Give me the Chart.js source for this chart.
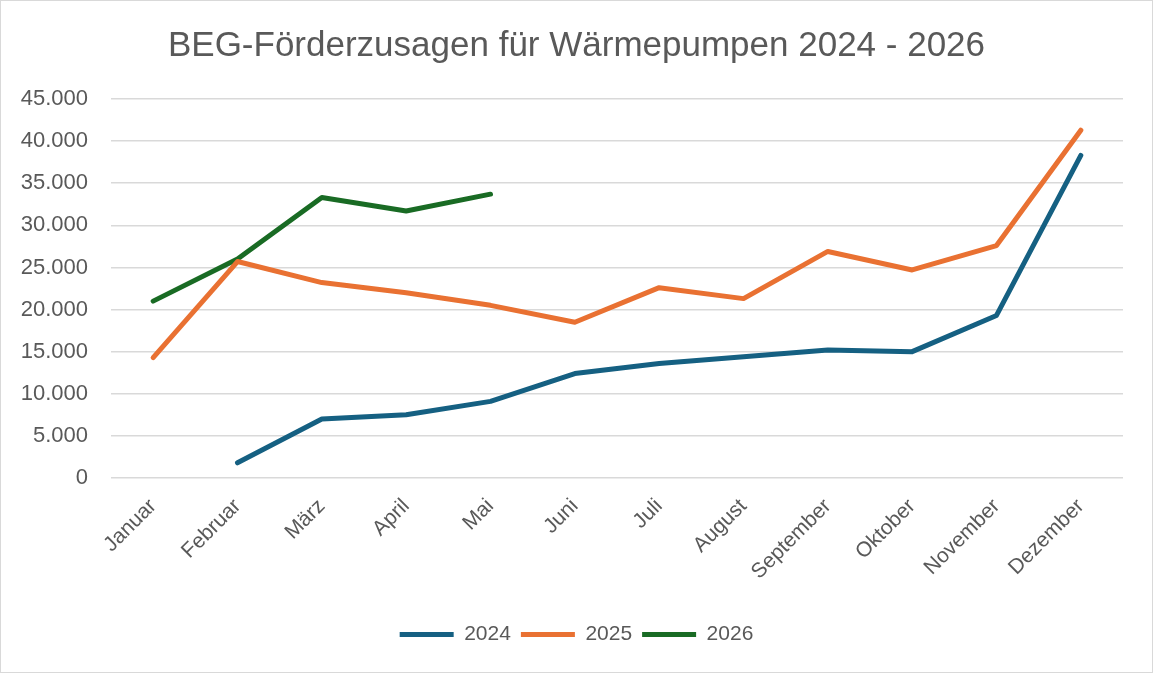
<!DOCTYPE html>
<html><head><meta charset="utf-8">
<script src="https://cdn.jsdelivr.net/npm/chart.js@4/dist/chart.umd.min.js"></script>
<style>
html,body{margin:0;padding:0;background:#fff;}
#wrap{position:absolute;left:0;top:0;width:1151px;height:671px;border:1px solid #d9d9d9;}
canvas{display:block;}
</style></head>
<body>
<div id="wrap"><canvas id="c" width="1151" height="671"></canvas></div>
<script>
const title = "BEG-Förderzusagen für Wärmepumpen 2024 - 2026";
const months = ["Januar","Februar","März","April","Mai","Juni","Juli","August","September","Oktober","November","Dezember"];
const seriesNames = ["2024","2025","2026"];
const values2024 = [null,1800,7000,7500,9100,12400,13600,14400,15200,15000,19300,38300];
const values2025 = [14300,25700,23200,22000,20500,18500,22600,21300,26900,24700,27600,41300];
const values2026 = [21000,26000,33300,31700,33700,null,null,null,null,null,null,null];
const colors = ["#156082","#E97132","#196B24"];
const yMax = 45000, yStep = 5000;

const FONT = "'Liberation Sans', Arial, sans-serif";
const TXT = "#595959";
function fmt(v){ return String(v).replace(/\B(?=(\d{3})+(?!\d))/g, "."); }

function ds(label, data, color){
  return {label, data, borderColor: color, backgroundColor: color, borderWidth: 5,
    borderCapStyle: 'round', borderJoinStyle: 'round', pointRadius: 0, pointHoverRadius: 0,
    tension: 0, spanGaps: false};
}

new Chart(document.getElementById('c'), {
  type: 'line',
  data: { labels: months, datasets: [
    ds(seriesNames[0], values2024, colors[0]),
    ds(seriesNames[1], values2025, colors[1]),
    ds(seriesNames[2], values2026, colors[2])
  ]},
  options: {
    responsive: false, animation: false, devicePixelRatio: 1,
    layout: { padding: { left: 0, right: 0, top: 0, bottom: 17 } },
    plugins: {
      title: { display: true, text: title, color: TXT, font: { family: FONT, size: 35, weight: 'normal' },
        padding: { top: 24, bottom: 32 } },
      legend: { position: 'bottom', labels: { color: TXT, font: { family: FONT, size: 21 },
        usePointStyle: true, pointStyle: 'line', pointStyleWidth: 54, boxHeight: 8, padding: 10 } },
      tooltip: { enabled: false }
    },
    scales: {
      x: { offset: true,
        grid: { display: false, drawTicks: false },
        border: { display: false },
        ticks: { color: TXT, font: { family: FONT, size: 21 }, maxRotation: 45, minRotation: 45, padding: 16, autoSkip: false },
        afterFit: s => { s.height = 136; }
      },
      y: { min: 0, max: yMax,
        grid: { color: '#d9d9d9', lineWidth: 1.5, drawTicks: false },
        border: { display: false },
        ticks: { stepSize: yStep, color: TXT, font: { family: FONT, size: 22 }, padding: 23, callback: v => fmt(v) },
        afterFit: s => { s.width = 110; }
      },
      yRight: { position: 'right', min: 0, max: yMax,
        grid: { display: false, drawTicks: false },
        border: { display: false },
        ticks: { display: false },
        afterFit: s => { s.width = 29; }
      }
    }
  }
});
</script>
</body></html>
